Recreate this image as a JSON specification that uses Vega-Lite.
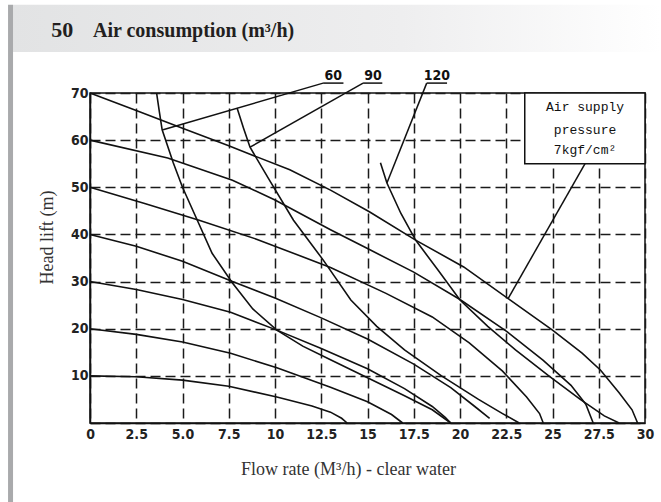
{
  "$schema": "https://vega.github.io/schema/vega-lite/v6.json",
  "autosize": "none",
  "padding": {"left": 90, "top": 93, "right": 16, "bottom": 79},
  "width": 555,
  "height": 330,
  "background": "white",
  "config": {
    "view": {"stroke": "#111", "strokeWidth": 1.5},
    "axis": {
      "domain": true, "domainColor": "#111", "domainWidth": 1.5,
      "ticks": false, "grid": true, "gridColor": "#1a1a1a", "gridDash": [10, 5],
      "gridWidth": 1.5, "gridOpacity": 1,
      "labelFont": "Liberation Sans Narrow, DejaVu Sans Condensed, Liberation Sans",
      "labelFontWeight": "bold", "labelFontSize": 14, "labelColor": "#222",
      "labelOverlap": false, "labelFlush": false, "labelBound": false,
      "titleFont": "Liberation Serif", "titleFontWeight": "normal", "titleFontSize": 18, "titleColor": "#333"
    }
  },
  "datasets": {
    "curves": [
      {"s": "h70", "x": 0, "y": 70}, {"s": "h70", "x": 2.5, "y": 66.3}, {"s": "h70", "x": 5, "y": 62.5}, {"s": "h70", "x": 7.5, "y": 58.8}, {"s": "h70", "x": 10.8, "y": 53.7}, {"s": "h70", "x": 13, "y": 49.4}, {"s": "h70", "x": 15.1, "y": 44.8}, {"s": "h70", "x": 17.6, "y": 38.8}, {"s": "h70", "x": 20.2, "y": 33.1}, {"s": "h70", "x": 22.7, "y": 26.1}, {"s": "h70", "x": 25, "y": 19.7}, {"s": "h70", "x": 26.6, "y": 14.8}, {"s": "h70", "x": 27.6, "y": 11.2}, {"s": "h70", "x": 28.6, "y": 6.4}, {"s": "h70", "x": 29.3, "y": 2.8}, {"s": "h70", "x": 29.6, "y": 0},
      {"s": "h60", "x": 0, "y": 60}, {"s": "h60", "x": 4.2, "y": 56.2}, {"s": "h60", "x": 7.7, "y": 51.5}, {"s": "h60", "x": 10, "y": 47.3}, {"s": "h60", "x": 13, "y": 41}, {"s": "h60", "x": 15, "y": 37}, {"s": "h60", "x": 17.5, "y": 32}, {"s": "h60", "x": 20, "y": 26.2}, {"s": "h60", "x": 22.5, "y": 19.5}, {"s": "h60", "x": 24.5, "y": 13.3}, {"s": "h60", "x": 26, "y": 8}, {"s": "h60", "x": 26.8, "y": 4}, {"s": "h60", "x": 27.2, "y": 0},
      {"s": "h50", "x": 0, "y": 50}, {"s": "h50", "x": 3, "y": 46.5}, {"s": "h50", "x": 5.9, "y": 43}, {"s": "h50", "x": 9, "y": 39}, {"s": "h50", "x": 13, "y": 33}, {"s": "h50", "x": 16, "y": 27.5}, {"s": "h50", "x": 18.5, "y": 22.5}, {"s": "h50", "x": 20.5, "y": 17}, {"s": "h50", "x": 22.3, "y": 11}, {"s": "h50", "x": 23.6, "y": 5.5}, {"s": "h50", "x": 24.3, "y": 2}, {"s": "h50", "x": 24.5, "y": 0},
      {"s": "h40", "x": 0, "y": 40}, {"s": "h40", "x": 2.5, "y": 37.5}, {"s": "h40", "x": 5, "y": 34.3}, {"s": "h40", "x": 7.7, "y": 30}, {"s": "h40", "x": 10, "y": 26.5}, {"s": "h40", "x": 12.5, "y": 22.3}, {"s": "h40", "x": 15, "y": 17.8}, {"s": "h40", "x": 17.5, "y": 12.5}, {"s": "h40", "x": 19.5, "y": 7.5}, {"s": "h40", "x": 20.8, "y": 3.5}, {"s": "h40", "x": 21.6, "y": 1},
      {"s": "h30", "x": 0, "y": 30}, {"s": "h30", "x": 2.5, "y": 28.3}, {"s": "h30", "x": 5, "y": 26.2}, {"s": "h30", "x": 7.6, "y": 23.5}, {"s": "h30", "x": 10.1, "y": 19.7}, {"s": "h30", "x": 12.5, "y": 15.8}, {"s": "h30", "x": 15, "y": 11.5}, {"s": "h30", "x": 17, "y": 7.3}, {"s": "h30", "x": 18.5, "y": 3.5}, {"s": "h30", "x": 19.2, "y": 1.2}, {"s": "h30", "x": 19.5, "y": 0},
      {"s": "h20", "x": 0, "y": 20}, {"s": "h20", "x": 2.5, "y": 18.8}, {"s": "h20", "x": 5, "y": 17.2}, {"s": "h20", "x": 7.6, "y": 14.8}, {"s": "h20", "x": 10.1, "y": 11.7}, {"s": "h20", "x": 13, "y": 7.6}, {"s": "h20", "x": 15, "y": 4.5}, {"s": "h20", "x": 16.3, "y": 1.8}, {"s": "h20", "x": 16.9, "y": 0},
      {"s": "h10", "x": 0, "y": 10}, {"s": "h10", "x": 2.5, "y": 9.8}, {"s": "h10", "x": 5, "y": 9.1}, {"s": "h10", "x": 7.5, "y": 7.8}, {"s": "h10", "x": 10.1, "y": 5.5}, {"s": "h10", "x": 12, "y": 3.6}, {"s": "h10", "x": 13, "y": 2.3}, {"s": "h10", "x": 13.6, "y": 1}, {"s": "h10", "x": 13.9, "y": 0},
      {"s": "a60", "x": 3.6, "y": 70}, {"s": "a60", "x": 3.75, "y": 66}, {"s": "a60", "x": 3.9, "y": 62.2}, {"s": "a60", "x": 4.5, "y": 55.2}, {"s": "a60", "x": 5, "y": 50}, {"s": "a60", "x": 5.8, "y": 43}, {"s": "a60", "x": 6.6, "y": 36}, {"s": "a60", "x": 7.7, "y": 29.7}, {"s": "a60", "x": 8.8, "y": 24.2}, {"s": "a60", "x": 10.1, "y": 19.7}, {"s": "a60", "x": 11.5, "y": 16.3}, {"s": "a60", "x": 13, "y": 13.4}, {"s": "a60", "x": 15, "y": 9.6}, {"s": "a60", "x": 17, "y": 5.8}, {"s": "a60", "x": 18.5, "y": 2.8}, {"s": "a60", "x": 19.5, "y": 0},
      {"s": "a90", "x": 7.95, "y": 66.8}, {"s": "a90", "x": 8.3, "y": 62.5}, {"s": "a90", "x": 8.65, "y": 58.5}, {"s": "a90", "x": 9.7, "y": 51.5}, {"s": "a90", "x": 11, "y": 43}, {"s": "a90", "x": 12.6, "y": 34.6}, {"s": "a90", "x": 14.1, "y": 26.1}, {"s": "a90", "x": 15.5, "y": 20.5}, {"s": "a90", "x": 17, "y": 15.5}, {"s": "a90", "x": 19, "y": 10}, {"s": "a90", "x": 21, "y": 5}, {"s": "a90", "x": 22.3, "y": 2}, {"s": "a90", "x": 23.2, "y": 0},
      {"s": "a120", "x": 15.7, "y": 55.2}, {"s": "a120", "x": 16.05, "y": 50.9}, {"s": "a120", "x": 16.8, "y": 44.5}, {"s": "a120", "x": 17.6, "y": 38.8}, {"s": "a120", "x": 18.8, "y": 32.5}, {"s": "a120", "x": 20, "y": 26.1}, {"s": "a120", "x": 21.5, "y": 20.5}, {"s": "a120", "x": 23, "y": 15.5}, {"s": "a120", "x": 24.8, "y": 10}, {"s": "a120", "x": 26.5, "y": 5}, {"s": "a120", "x": 27.8, "y": 1.5}, {"s": "a120", "x": 28.6, "y": 0}
    ],
    "leaders": [
      {"name": "60", "x": 12.6, "y": 72.1, "x2": 3.95, "y2": 62.2},
      {"name": "90", "x": 14.76, "y": 72.1, "x2": 8.65, "y2": 58.5},
      {"name": "120", "x": 18.2, "y": 72.1, "x2": 16.05, "y2": 50.9},
      {"name": "box", "x": 26.76, "y": 55, "x2": 22.6, "y2": 26.4},
      {"name": "u60", "x": 12.6, "y": 72.1, "x2": 13.7, "y2": 72.1},
      {"name": "u90", "x": 14.76, "y": 72.1, "x2": 15.8, "y2": 72.1},
      {"name": "u120", "x": 18.2, "y": 72.1, "x2": 19.3, "y2": 72.1}
    ],
    "curveLabels": [
      {"text": "60", "x": 13.15, "y": 72.7},
      {"text": "90", "x": 15.3, "y": 72.7},
      {"text": "120", "x": 18.75, "y": 72.7}
    ],
    "boxText": [
      {"text": "Air supply", "x": 26.76, "y": 67.0},
      {"text": "pressure", "x": 26.76, "y": 62.1},
      {"text": "7kgf/cm²", "x": 26.76, "y": 57.9}
    ]
  },
  "layer": [
    {
      "data": {"name": "curves"},
      "mark": {"type": "line", "color": "#111", "strokeWidth": 1.6},
      "encoding": {
        "x": {
          "field": "x", "type": "quantitative",
          "scale": {"domain": [0, 30], "nice": false, "zero": false},
          "axis": {
            "values": [0, 2.5, 5, 7.5, 10, 12.5, 15, 17.5, 20, 22.5, 25, 27.5, 30],
            "labelExpr": "datum.value == 5 ? '5.0' : '' + datum.value",
            "labelPadding": 4,
            "title": "Flow rate (M³/h) - clear water",
            "titleX": 258, "titleY": 46, "titleAlign": "center", "titleBaseline": "middle"
          }
        },
        "y": {
          "field": "y", "type": "quantitative",
          "scale": {"domain": [0, 70], "nice": false, "zero": false},
          "axis": {
            "values": [0, 5, 10, 15, 20, 25, 30, 35, 40, 45, 50, 55, 60, 65, 70],
            "labelExpr": "datum.value % 10 == 0 && datum.value > 0 ? datum.label : ''",
            "labelPadding": 2,
            "title": "Head lift (m)",
            "titleX": -43, "titleY": 144, "titleAlign": "center", "titleBaseline": "middle"
          }
        },
        "detail": {"field": "s"}
      }
    },
    {
      "data": {"name": "leaders"},
      "mark": {"type": "rule", "color": "#111", "strokeWidth": 1.5},
      "encoding": {
        "x": {"field": "x", "type": "quantitative"},
        "y": {"field": "y", "type": "quantitative"},
        "x2": {"field": "x2"},
        "y2": {"field": "y2"}
      }
    },
    {
      "data": {"values": [{}]},
      "mark": {"type": "rect", "fill": "white", "stroke": "#111", "strokeWidth": 1.5},
      "encoding": {
        "x": {"datum": 23.5, "type": "quantitative"},
        "x2": {"datum": 30},
        "y": {"datum": 55, "type": "quantitative"},
        "y2": {"datum": 70}
      }
    },
    {
      "data": {"name": "boxText"},
      "mark": {"type": "text", "font": "Liberation Mono", "fontSize": 13, "color": "#111", "align": "center", "baseline": "middle"},
      "encoding": {
        "x": {"field": "x", "type": "quantitative"},
        "y": {"field": "y", "type": "quantitative"},
        "text": {"field": "text"}
      }
    },
    {
      "data": {"name": "curveLabels"},
      "mark": {"type": "text", "font": "Liberation Sans Narrow, DejaVu Sans Condensed, Liberation Sans", "fontWeight": "bold", "fontSize": 14, "color": "#111", "align": "center", "baseline": "alphabetic"},
      "encoding": {
        "x": {"field": "x", "type": "quantitative"},
        "y": {"field": "y", "type": "quantitative"},
        "text": {"field": "text"}
      }
    },
    {
      "data": {"values": [{}]},
      "mark": {"type": "rect", "fill": {"gradient": "linear", "x1": 0, "x2": 1, "y1": 0, "y2": 0, "stops": [{"offset": 0, "color": "#e2e3e4"}, {"offset": 0.6, "color": "#eeeeef"}, {"offset": 1, "color": "#ffffff"}]}},
      "encoding": {
        "x": {"datum": -4.16, "type": "quantitative"},
        "x2": {"datum": 30.86},
        "y": {"datum": 88.7, "type": "quantitative"},
        "y2": {"datum": 78.7}
      }
    },
    {
      "data": {"values": [{}]},
      "mark": {"type": "rect", "fill": "#a9aaac"},
      "encoding": {
        "x": {"datum": -4.43, "type": "quantitative"},
        "x2": {"datum": -4.16},
        "y": {"datum": 88.7, "type": "quantitative"},
        "y2": {"datum": -16.8}
      }
    },
    {
      "data": {"values": [{}]},
      "mark": {"type": "text", "font": "Liberation Serif", "fontWeight": "bold", "fontSize": 22, "color": "#231f20", "align": "left", "baseline": "alphabetic"},
      "encoding": {
        "x": {"datum": -2.1, "type": "quantitative"},
        "y": {"datum": 81.9, "type": "quantitative"},
        "text": {"value": "50"}
      }
    },
    {
      "data": {"values": [{}]},
      "mark": {"type": "text", "font": "Liberation Serif", "fontWeight": "bold", "fontSize": 20, "color": "#231f20", "align": "left", "baseline": "alphabetic"},
      "encoding": {
        "x": {"datum": 0.16, "type": "quantitative"},
        "y": {"datum": 81.9, "type": "quantitative"},
        "text": {"value": "Air consumption (m³/h)"}
      }
    }
  ]
}
